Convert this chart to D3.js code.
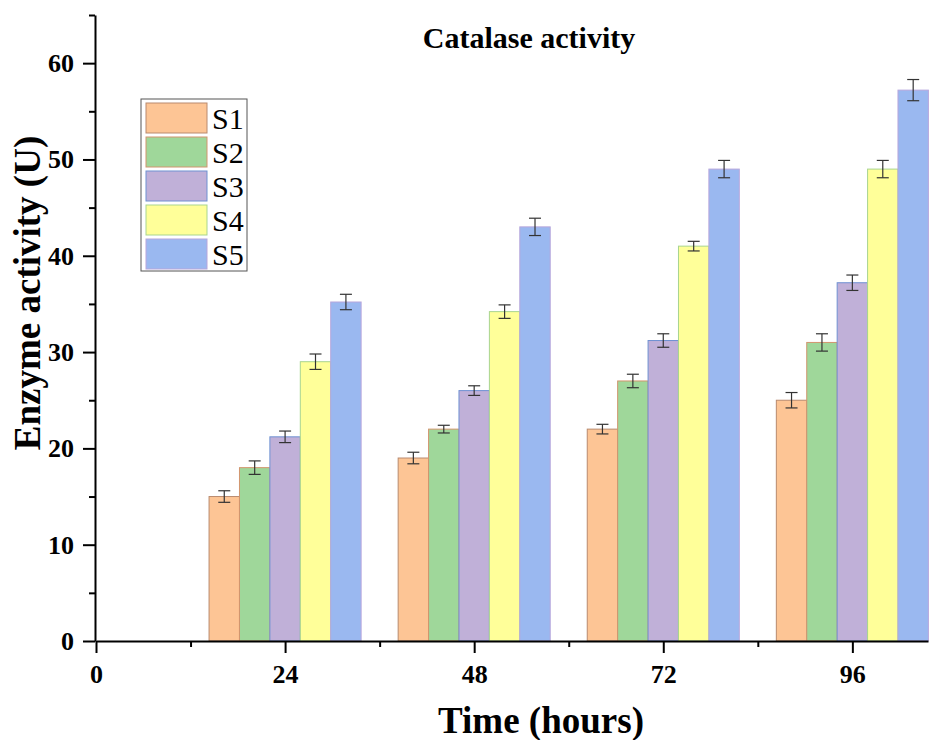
<!DOCTYPE html>
<html>
<head>
<meta charset="utf-8">
<script src="https://cdn.jsdelivr.net/npm/d3@7"></script>
<style>
  body { margin: 0; background: #fff; }
  text { font-family: "Liberation Serif", "Times New Roman", serif; }
</style>
</head>
<body>
<script>
// data
let hours = [24, 48, 72, 96]
let series = ['S1', 'S2', 'S3', 'S4', 'S5']
let S1 = [15, 19, 22, 25]
let S2 = [18, 22, 27, 31]
let S3 = [21.2, 26, 31.2, 37.2]
let S4 = [29, 34.2, 41, 49]
let S5 = [35.2, 43, 49, 57.2]
let S1err = [0.6, 0.6, 0.5, 0.8]
let S2err = [0.7, 0.4, 0.7, 0.9]
let S3err = [0.6, 0.5, 0.7, 0.8]
let S4err = [0.8, 0.7, 0.5, 0.9]
let S5err = [0.8, 0.9, 0.9, 1.1]
let fills = ['#fdc595', '#9fd79a', '#c0b0d8', '#ffff99', '#9ab8f0']
let strokes = ['#b98a6e', '#d2956e', '#6f91d2', '#a9d58f', '#b7a6dc']

let values = [S1, S2, S3, S4, S5]
let errs = [S1err, S2err, S3err, S4err, S5err]

let width = 937, height = 740

let svg = d3.select('body').append('svg')
  .attr('width', width)
  .attr('height', height)

let x = d3.scaleLinear().domain([0, 105.6]).range([96, 928])
let y = d3.scaleLinear().domain([0, 65]).range([641, 15])

let barW = 3.86 // in hours

let rows = []
series.forEach((s, si) => {
  hours.forEach((h, hi) => {
    rows.push({ s: si, h: h, v: values[si][hi], e: errs[si][hi] })
  })
})

// bars
svg.append('g').selectAll('rect').data(rows).enter()
  .append('rect')
  .attr('x', d => x(d.h + (d.s - 2.5) * barW))
  .attr('width', d => x(barW) - x(0))
  .attr('y', d => y(d.v))
  .attr('height', d => y(0) - y(d.v))
  .attr('fill', d => fills[d.s])
  .attr('stroke', d => strokes[d.s])
  .attr('stroke-width', 1)

// error bars
let eb = svg.append('g').attr('stroke', '#333').attr('stroke-width', 1.2)
rows.forEach(d => {
  let cx = x(d.h + (d.s - 2) * barW)
  eb.append('line').attr('x1', cx).attr('x2', cx).attr('y1', y(d.v + d.e)).attr('y2', y(d.v - d.e))
  eb.append('line').attr('x1', cx - 6).attr('x2', cx + 6).attr('y1', y(d.v + d.e)).attr('y2', y(d.v + d.e))
  eb.append('line').attr('x1', cx - 6).attr('x2', cx + 6).attr('y1', y(d.v - d.e)).attr('y2', y(d.v - d.e))
})

// y axis
let yAxis = svg.append('g').attr('transform', 'translate(95,0)')
  .call(d3.axisLeft(y).tickValues(d3.range(0, 61, 10)).tickSize(12).tickSizeOuter(0).tickPadding(9))
yAxis.append('g').call(d3.axisLeft(y).tickValues(d3.range(5, 66, 10)).tickSize(6).tickFormat(''))
  .select('.domain').remove()

// x axis
let xAxis = svg.append('g').attr('transform', 'translate(0,641)')
  .call(d3.axisBottom(x).tickValues([0, 24, 48, 72, 96]).tickSize(12).tickSizeOuter(0).tickPadding(12))
xAxis.append('g').call(d3.axisBottom(x).tickValues([12, 36, 60, 84]).tickSize(6).tickFormat(''))
  .select('.domain').remove()

svg.selectAll('.domain').attr('stroke', '#000').attr('stroke-width', 2)
svg.selectAll('.tick line').attr('stroke', '#000').attr('stroke-width', 2)
svg.selectAll('.tick text')
  .attr('fill', '#000')
  .style('font-family', '"Liberation Serif", serif')
  .style('font-size', '26px')
  .style('font-weight', 'bold')

// titles
svg.append('text')
  .attr('x', 529).attr('y', 48)
  .attr('text-anchor', 'middle')
  .style('font-size', '30px').style('font-weight', 'bold')
  .text('Catalase activity')

svg.append('text')
  .attr('x', 541).attr('y', 733)
  .attr('text-anchor', 'middle')
  .style('font-size', '37px').style('font-weight', 'bold')
  .text('Time (hours)')

svg.append('text')
  .attr('transform', 'translate(40,293) rotate(-90)')
  .attr('text-anchor', 'middle')
  .style('font-size', '37px').style('font-weight', 'bold')
  .text('Enzyme activity (U)')

// legend
let lg = svg.append('g').attr('transform', 'translate(141,99)')
lg.append('rect')
  .attr('width', 106).attr('height', 172)
  .attr('fill', '#fff').attr('stroke', '#555').attr('stroke-width', 1)
series.forEach((s, i) => {
  lg.append('rect')
    .attr('x', 5).attr('y', 4 + i * 34)
    .attr('width', 61).attr('height', 30)
    .attr('fill', fills[i]).attr('stroke', strokes[i])
  lg.append('text')
    .attr('x', 71).attr('y', 30 + i * 34)
    .style('font-size', '30px')
    .text(s)
})
</script>
</body>
</html>
